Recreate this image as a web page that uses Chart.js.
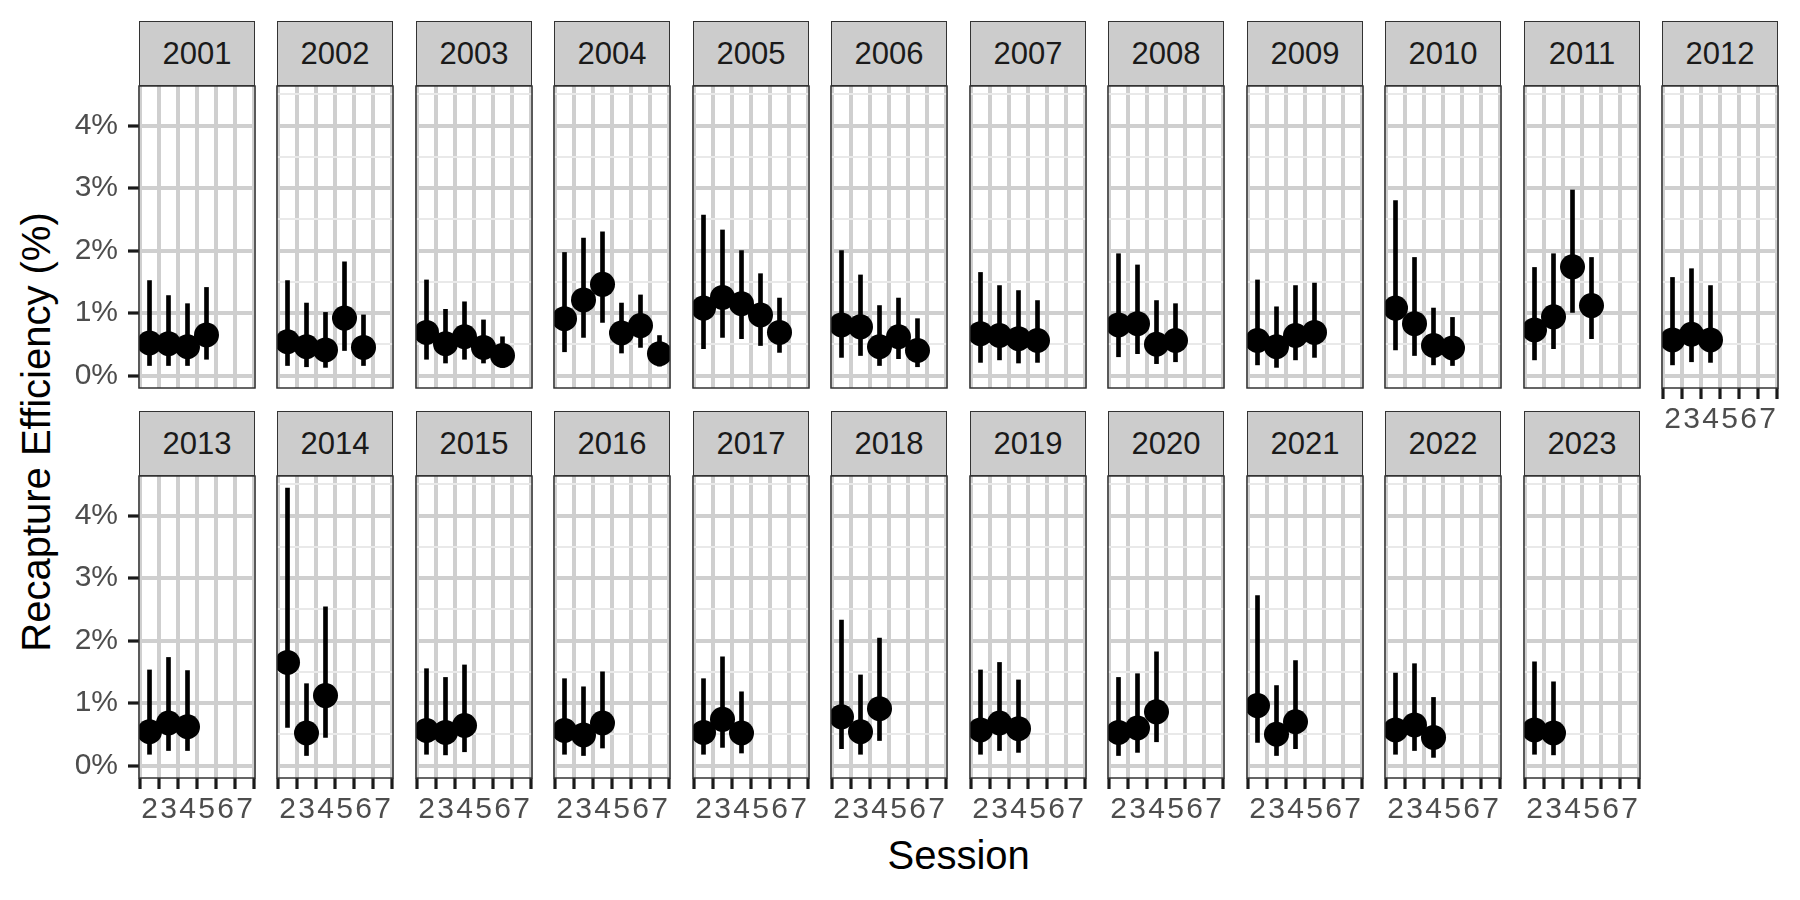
<!DOCTYPE html>
<html><head><meta charset="utf-8">
<script src="https://cdn.jsdelivr.net/npm/chart.js@4.4.1/dist/chart.umd.min.js"></script>
<style>
html,body{margin:0;padding:0;background:#fff;width:1800px;height:900px;overflow:hidden;}
#root{position:relative;width:1800px;height:900px;font-family:"Liberation Sans",Arial,Helvetica,sans-serif;}
.strip{position:absolute;box-sizing:border-box;background:#cccccc;border:1.5px solid #333;color:#1a1a1a;font-size:31px;display:flex;align-items:center;justify-content:center;}
canvas{position:absolute;}
.title{position:absolute;color:#000;font-size:40px;line-height:40px;white-space:nowrap;text-align:center;}
</style></head>
<body><div id="root"></div>
<script>
// ---- data ----
const years = [2001,2002,2003,2004,2005,2006,2007,2008,2009,2010,2011,2012,
               2013,2014,2015,2016,2017,2018,2019,2020,2021,2022,2023];
const sessions = [
  [2,3,4,5],[2,3,4,5,6],[2,3,4,5,6],[2,3,4,5,6,7],[2,3,4,5,6],[2,3,4,5,6],
  [2,3,4,5],[2,3,4,5],[2,3,4,5],[2,3,4,5],[2,3,4,5],[2,3,4],
  [2,3,4],[2,3,4],[2,3,4],[2,3,4],[2,3,4],[2,3,4],[2,3,4],[2,3,4],[2,3,4],[2,3,4],[2,3]
];
const estimate = [
  [0.52,0.51,0.46,0.65],[0.54,0.46,0.41,0.92,0.45],[0.69,0.51,0.62,0.45,0.32],
  [0.91,1.21,1.46,0.68,0.80,0.35],[1.08,1.25,1.15,0.97,0.69],[0.81,0.78,0.46,0.62,0.40],
  [0.67,0.64,0.59,0.56],[0.81,0.83,0.50,0.56],[0.56,0.46,0.64,0.69],
  [1.08,0.83,0.48,0.44],[0.73,0.94,1.74,1.12],[0.57,0.66,0.57],
  [0.54,0.68,0.62],[1.65,0.52,1.12],[0.56,0.53,0.64],[0.56,0.49,0.68],
  [0.53,0.74,0.52],[0.78,0.54,0.91],[0.57,0.68,0.59],[0.53,0.60,0.86],
  [0.96,0.50,0.70],[0.57,0.65,0.45],[0.57,0.52]
];
const lower = [
  [0.16,0.16,0.16,0.26],[0.16,0.14,0.13,0.40,0.16],[0.26,0.20,0.26,0.20,0.13],
  [0.38,0.61,0.85,0.36,0.45,0.15],[0.43,0.61,0.59,0.48,0.37],[0.29,0.32,0.16,0.27,0.14],
  [0.21,0.25,0.20,0.21],[0.30,0.35,0.19,0.22],[0.17,0.13,0.25,0.29],
  [0.41,0.32,0.17,0.16],[0.25,0.43,1.01,0.59],[0.17,0.22,0.21],
  [0.18,0.24,0.24],[0.61,0.16,0.45],[0.18,0.17,0.22],[0.18,0.16,0.28],
  [0.18,0.29,0.20],[0.27,0.18,0.40],[0.18,0.24,0.21],[0.16,0.21,0.38],
  [0.37,0.16,0.27],[0.18,0.24,0.13],[0.18,0.17]
];
const upper = [
  [1.52,1.28,1.15,1.41],[1.52,1.16,1.01,1.82,0.97],[1.53,1.06,1.18,0.89,0.62],
  [1.97,2.20,2.30,1.16,1.29,0.64],[2.57,2.33,2.00,1.63,1.24],[2.00,1.61,1.12,1.24,0.91],
  [1.65,1.44,1.36,1.20],[1.95,1.77,1.20,1.15],[1.53,1.10,1.44,1.48],
  [2.80,1.89,1.08,0.93],[1.73,1.95,2.97,1.89],[1.57,1.71,1.44],
  [1.53,1.73,1.52],[4.44,1.31,2.54],[1.55,1.41,1.61],[1.39,1.26,1.50],
  [1.39,1.74,1.18],[2.33,1.45,2.04],[1.53,1.65,1.37],[1.41,1.47,1.82],
  [2.72,1.28,1.68],[1.48,1.63,1.09],[1.66,1.34]
];
const sessionTicks = [2,3,4,5,6,7];
const yTicks = [0,0.5,1,1.5,2,2.5,3,3.5,4,4.5];
const yTickLabels = ['0%','','1%','','2%','','3%','','4%',''];
const xTitle = 'Session';
const yTitle = 'Recapture Efficiency (%)';

// ---- layout ----
const FONT = '"Liberation Sans", Arial, Helvetica, sans-serif';
const NCOL = 12, X0 = 138.6, PITCH = 138.5, PW = 116, PH = 302;
const ROW_TOP = [86, 476], STRIP_TOP = [21, 411];
const AXW = 70, PADT = 40, PADR = 20, AXH = 50;
const XMIN = 1.447, XMAX = 7.553, YMIN = -0.2, YMAX = 4.635;
const MAJOR = '#cfcfcf', MINOR = '#e9e9e9';

const root = document.getElementById('root');

const borderPlugin = {
  id: 'panelBorder',
  afterDatasetsDraw(chart) {
    const {ctx, chartArea: a} = chart;
    ctx.save();
    ctx.strokeStyle = '#333';
    ctx.lineWidth = 1.5;
    ctx.strokeRect(a.left, a.top, a.right - a.left, a.bottom - a.top);
    ctx.restore();
  }
};

years.forEach((yr, k) => {
  const row = Math.floor(k / NCOL), col = k % NCOL;
  const left = Math.round(X0 + PITCH * col);
  const top = ROW_TOP[row];
  const showY = col === 0;
  const showX = (k + NCOL >= years.length);

  const strip = document.createElement('div');
  strip.className = 'strip';
  strip.style.left = left + 'px';
  strip.style.top = STRIP_TOP[row] + 'px';
  strip.style.width = PW + 'px';
  strip.style.height = (top - STRIP_TOP[row]) + 'px';
  strip.textContent = String(yr);
  root.appendChild(strip);

  const cv = document.createElement('canvas');
  cv.width = AXW + PW + PADR; cv.height = PADT + PH + AXH;
  cv.style.width = cv.width + 'px'; cv.style.height = cv.height + 'px';
  cv.style.left = (left - AXW) + 'px';
  cv.style.top = (top - PADT) + 'px';
  root.appendChild(cv);

  const pts = sessions[k].map((s, j) => ({x: s, y: estimate[k][j]}));
  const bars = sessions[k].map((s, j) => ({x: s, y: [lower[k][j], upper[k][j]]}));

  new Chart(cv, {
    type: 'scatter',
    data: {
      datasets: [
        {type: 'scatter', data: pts, backgroundColor: '#000', borderWidth: 0,
         pointRadius: 12.5, pointHoverRadius: 12.5, clip: 0},
        {type: 'bar', data: bars, backgroundColor: '#000', borderWidth: 0,
         barThickness: 4, borderSkipped: false, clip: 0}
      ]
    },
    options: {
      responsive: false, animation: false, devicePixelRatio: 1,
      events: [],
      layout: {padding: {top: PADT, right: PADR, left: 0, bottom: 0}},
      plugins: {legend: {display: false}, tooltip: {enabled: false}},
      scales: {
        x: {
          type: 'linear', min: XMIN, max: XMAX, offset: false,
          afterBuildTicks: s => { s.ticks = sessionTicks.map(v => ({value: v})); },
          afterFit: s => { s.height = AXH; },
          border: {display: false},
          grid: {color: MAJOR, lineWidth: 4, drawTicks: showX, tickLength: 11,
                 tickWidth: 3.2, tickColor: '#1a1a1a'},
          ticks: {display: showX, autoSkip: false, maxRotation: 0, minRotation: 0,
                  padding: 3, color: '#4d4d4d', font: {family: FONT, size: 30},
                  callback: v => String(v)}
        },
        y: {
          type: 'linear', min: YMIN, max: YMAX,
          afterBuildTicks: s => { s.ticks = yTicks.map(v => ({value: v})); },
          afterFit: s => { s.width = AXW; },
          border: {display: false},
          grid: {
            color: c => (c.tick && Number.isInteger(c.tick.value)) ? MAJOR : MINOR,
            lineWidth: c => (c.tick && Number.isInteger(c.tick.value)) ? 4 : 2,
            drawTicks: showY, tickLength: 11, tickWidth: 3.2,
            tickColor: c => (c.tick && Number.isInteger(c.tick.value)) ? '#1a1a1a' : 'rgba(0,0,0,0)'
          },
          ticks: {display: showY, padding: 10, color: '#4d4d4d', font: {family: FONT, size: 30},
                  callback: (v) => { const idx = yTicks.indexOf(v); return idx >= 0 ? yTickLabels[idx] : ''; }}
        }
      }
    },
    plugins: [borderPlugin]
  });
});

const xt = document.createElement('div');
xt.className = 'title';
xt.textContent = xTitle;
xt.style.width = '400px';
xt.style.left = (958.7 - 200) + 'px';
xt.style.top = '835px';
root.appendChild(xt);

const yt = document.createElement('div');
yt.className = 'title';
yt.textContent = yTitle;
yt.style.width = '600px';
yt.style.height = '40px';
yt.style.left = (36.4 - 300) + 'px';
yt.style.top = (432 - 20) + 'px';
yt.style.transform = 'rotate(-90deg)';
root.appendChild(yt);
</script>
</body></html>
